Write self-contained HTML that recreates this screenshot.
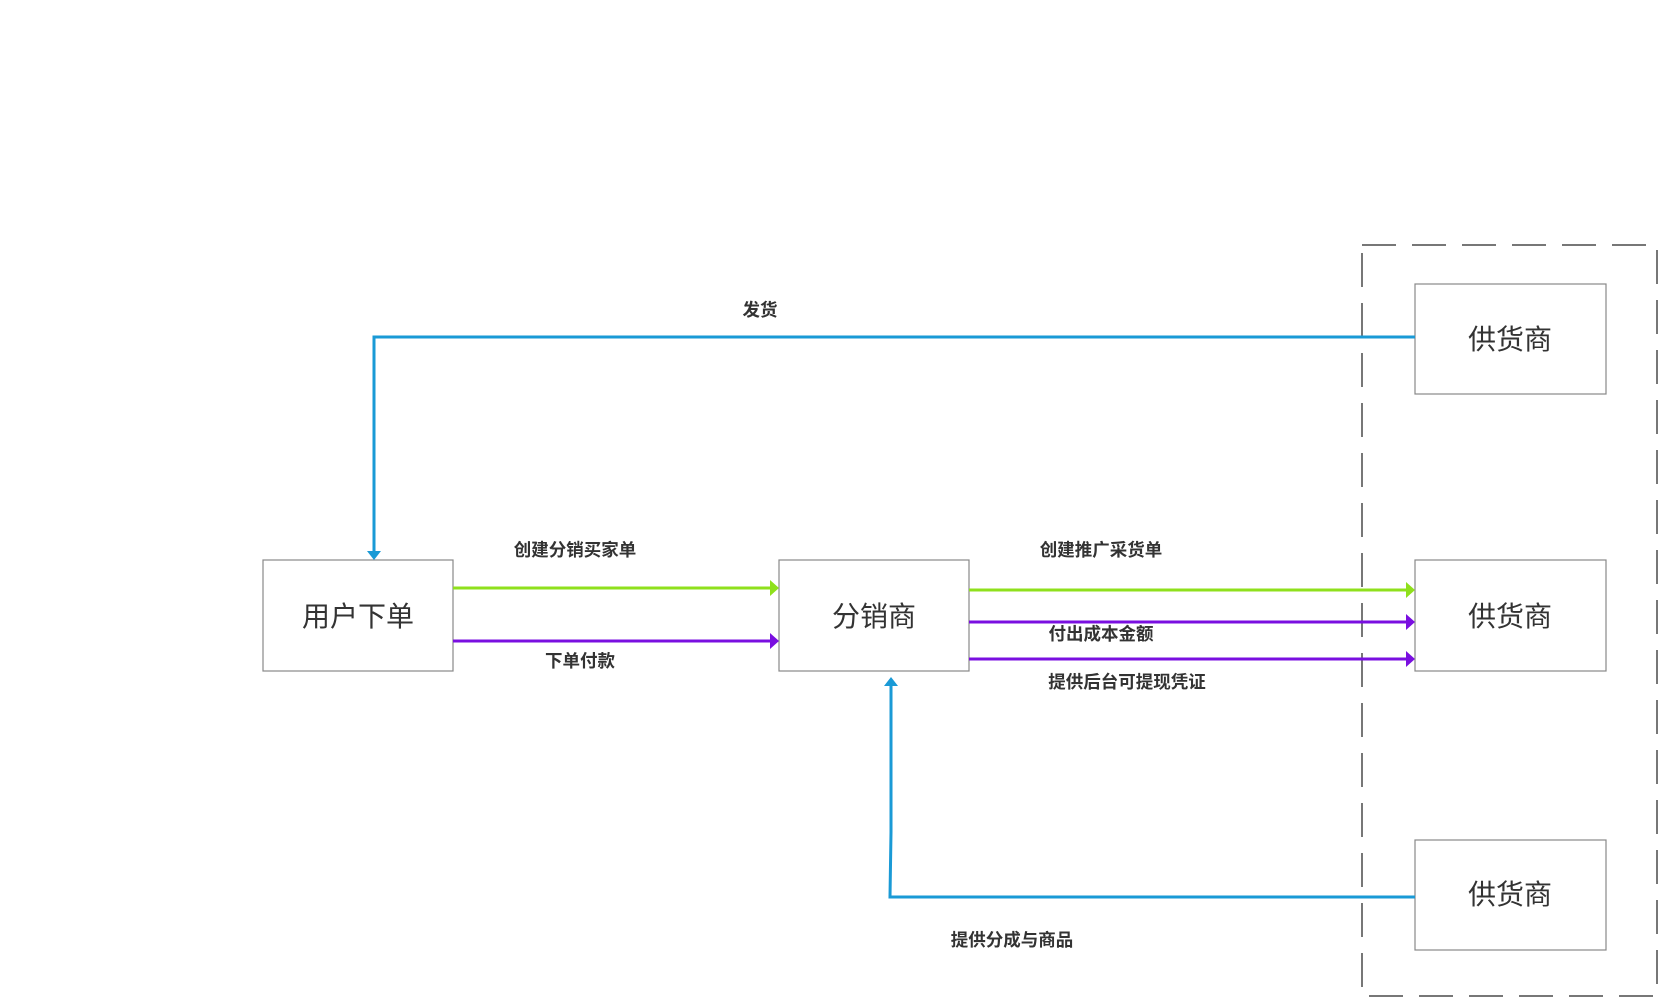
<!DOCTYPE html>
<html><head><meta charset="utf-8"><style>
html,body{margin:0;padding:0;background:#fff;}
svg{display:block;}
.b{font-family:"Liberation Sans","Noto Sans CJK SC",sans-serif;font-size:28px;fill:#333;}
.l{font-family:"Liberation Sans","Noto Sans CJK SC",sans-serif;font-size:17.5px;font-weight:bold;fill:#333;}
</style></head><body>
<svg width="1661" height="998" viewBox="0 0 1661 998" xmlns="http://www.w3.org/2000/svg">
<rect x="1362" y="245" width="295" height="751" fill="none" stroke="#777" stroke-width="2" stroke-dasharray="34,16"/>
<g fill="#fff" stroke="#888" stroke-width="1.2">
<rect x="263" y="560" width="190" height="111"/>
<rect x="779" y="560" width="190" height="111"/>
<rect x="1415" y="284" width="191" height="110"/>
<rect x="1415" y="560" width="191" height="111"/>
<rect x="1415" y="840" width="191" height="110"/>
</g>
<g text-anchor="middle" class="b">
<text x="358" y="626">用户下单</text>
<text x="874" y="626">分销商</text>
<text x="1510" y="349">供货商</text>
<text x="1510" y="626">供货商</text>
<text x="1510" y="904">供货商</text>
</g>
<g fill="none" stroke-width="3">
<polyline points="1415,337 374,337 374,551" stroke="#1a9ad6"/>
<polyline points="1415,897 890,897 891,832 891,686" stroke="#1a9ad6"/>
<line x1="453" y1="588" x2="770" y2="588" stroke="#8fe01c"/>
<line x1="453" y1="641" x2="770" y2="641" stroke="#7a0fe0"/>
<line x1="969" y1="590" x2="1406" y2="590" stroke="#8fe01c"/>
<line x1="969" y1="622" x2="1406" y2="622" stroke="#7a0fe0"/>
<line x1="969" y1="659" x2="1406" y2="659" stroke="#7a0fe0"/>
</g>
<path d="M367,551 L381,551 L374,560 z" fill="#1a9ad6"/>
<path d="M884,686 L898,686 L891,677 z" fill="#1a9ad6"/>
<path d="M770,580 L779,588 L770,596 z" fill="#8fe01c"/>
<path d="M770,633 L779,641 L770,649 z" fill="#7a0fe0"/>
<path d="M1406,582 L1415,590 L1406,598 z" fill="#8fe01c"/>
<path d="M1406,614 L1415,622 L1406,630 z" fill="#7a0fe0"/>
<path d="M1406,651 L1415,659 L1406,667 z" fill="#7a0fe0"/>
<g text-anchor="middle" class="l">
<text x="760" y="316">发货</text>
<text x="575" y="556">创建分销买家单</text>
<text x="580" y="667">下单付款</text>
<text x="1101" y="556">创建推广采货单</text>
<text x="1101" y="640">付出成本金额</text>
<text x="1127" y="688">提供后台可提现凭证</text>
<text x="1012" y="946">提供分成与商品</text>
</g>
</svg>
</body></html>
